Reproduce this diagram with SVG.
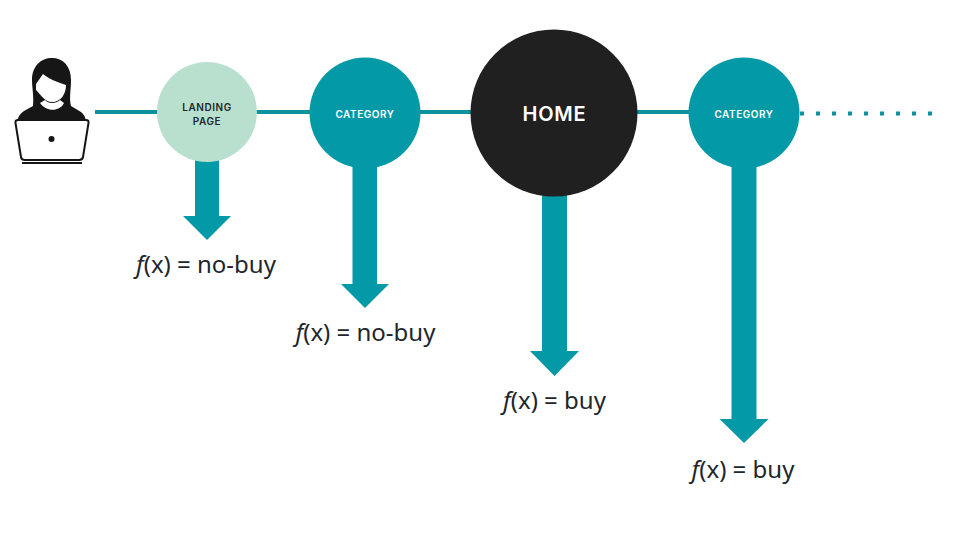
<svg xmlns="http://www.w3.org/2000/svg" width="960" height="540" viewBox="0 0 960 540">
<style>
.c{fill:#0499a7}
.l{stroke:#0b929f;stroke-width:4;fill:none}
.t{font-family:"Inter","Liberation Sans",sans-serif;font-weight:600;text-anchor:middle}
.s{font-size:10px;letter-spacing:.55px}
.f{font-family:"Noto Sans","Open Sans","Liberation Sans",sans-serif;font-size:24px;fill:#20262b;text-anchor:middle}
.f .i{font-style:italic}
</style>
<rect width="960" height="540" fill="#fff"/>
<g id="connectors">
<path class="l" d="M95 112H700"/>
<path d="M800 113.500H932" stroke="#0b929f" stroke-width="4" stroke-dasharray="4 12" fill="none"/>
<polygon class="c" points="195,160 219,160 219,216 231,216 207,240 183,216 195,216"/>
<polygon class="c" points="352.500,160 377,160 377,284 389,284 365,308 341,284 352.500,284"/>
<polygon class="c" points="542,190 567,190 567,351 579,351 554.500,376 530,351 542,351"/>
<polygon class="c" points="731.500,160 756.500,160 756.500,419 768.500,419 744,443 719.500,419 731.500,419"/>
</g>
<g id="user">
<path fill="#161616" d="M33 106C34 96 32 88 32 80C32 66 41 58 52 58C63 58 71 66 71 80C71 90 69 98 71 106L81 112Q85 115 86 121H17Q19 114 24 111Z"/>
<path fill="#fff" d="M36 84L43 74C48 78 56 82 66 85C66 94 61 102 52 102C45 102 42 96 36 90Z"/>
<path fill="#fff" d="M40 103L45 100C48 104 56 104 60 100L64 103C60 112 46 112 40 103Z"/>
<path fill="#fff" stroke="#161616" stroke-width="2" d="M18 120H86Q89 120 88.500 123L83 157Q82.500 160 79 160H25Q21.500 160 21 157L15.500 123Q15 120 18 120Z"/>
<circle cx="51.500" cy="139" r="3" fill="#161616"/>
<rect x="22" y="162" width="60" height="2" fill="#161616"/>
</g>
<g id="landing"><circle cx="207" cy="112" r="50" fill="#b9e0ce"/>
<text class="t s" x="207" y="110.500" fill="#20262b">LANDING</text>
<text class="t s" x="207" y="124.500" fill="#20262b">PAGE</text></g>
<g id="category1"><circle class="c" cx="365" cy="113" r="55.500"/>
<text class="t s" x="365" y="117.500" fill="#fff">CATEGORY</text></g>
<g id="home"><circle cx="554" cy="113" r="83.500" fill="#202020"/>
<text class="t" x="554.500" y="121" font-size="20" letter-spacing=".8" fill="#fff">HOME</text></g>
<g id="category2"><circle class="c" cx="744" cy="113" r="55.500"/>
<text class="t s" x="744" y="117.500" fill="#fff">CATEGORY</text></g>
<g id="labels">
<text class="f" x="206" y="273"><tspan class="i">f</tspan>(x) = no-buy</text>
<text class="f" x="365.500" y="341"><tspan class="i">f</tspan>(x) = no-buy</text>
<text class="f" x="554.500" y="409"><tspan class="i">f</tspan>(x) = buy</text>
<text class="f" x="743" y="478"><tspan class="i">f</tspan>(x) = buy</text>
</g>
</svg>
